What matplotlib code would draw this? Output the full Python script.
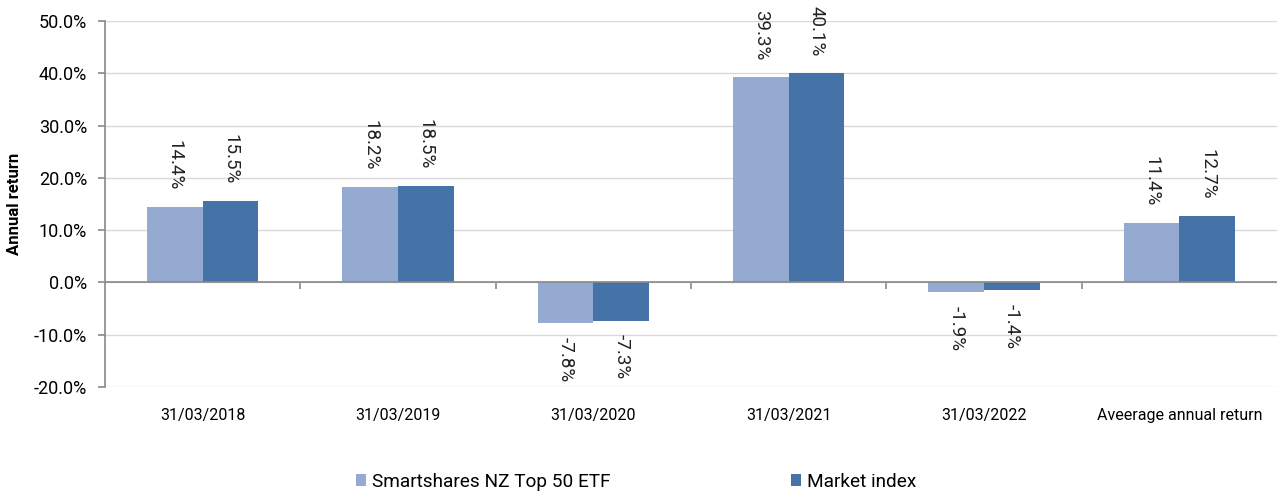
import matplotlib.pyplot as plt
import numpy as np
from matplotlib.ticker import FuncFormatter, MultipleLocator

plt.rcParams['font.family'] = ['Roboto', 'DejaVu Sans']

categories = ['31/03/2018', '31/03/2019', '31/03/2020', '31/03/2021', '31/03/2022', 'Aveerage annual return']
etf = [14.4, 18.2, -7.8, 39.3, -1.9, 11.4]
market = [15.5, 18.5, -7.3, 40.1, -1.4, 12.7]
series_names = ['Smartshares NZ Top 50 ETF', 'Market index']

c_light = '#94AAD0'
c_dark = '#4573A7'

fig = plt.figure(figsize=(12.77, 4.94), dpi=100)
ax = fig.add_axes([0.0822, 0.2166, 0.9178, 0.7409])

x = np.arange(len(categories))
w = 0.285
b1 = ax.bar(x - w / 2, etf, width=w, color=c_light, label=series_names[0], zorder=3)
b2 = ax.bar(x + w / 2, market, width=w, color=c_dark, label=series_names[1], zorder=3)

# value labels, rotated
for bars in (b1, b2):
    for rect in bars:
        v = rect.get_height()
        xc = rect.get_x() + rect.get_width() / 2
        if v >= 0:
            ax.annotate(f'{v:.1f}%', (xc, v), xytext=(0, 12), textcoords='offset points',
                        rotation=270, ha='center', va='bottom', fontsize=13.5, color='#222222')
        else:
            ax.annotate(f'{v:.1f}%', (xc, v), xytext=(0, -10), textcoords='offset points',
                        rotation=270, ha='center', va='top', fontsize=13.5, color='#222222')

ax.set_xlim(-0.5, len(categories) - 0.5)
ax.set_ylim(-20, 50)
ax.yaxis.set_major_locator(MultipleLocator(10))
ax.yaxis.set_major_formatter(FuncFormatter(lambda v, p: f'{v:.1f}%'))
ax.grid(axis='y', color='#D9D9D9', linewidth=1, zorder=0)
ax.axhline(0, color='#888888', linewidth=1.2, zorder=4)

ax.set_xticks(x)
ax.set_xticklabels(categories, fontsize=11.5)
ax.tick_params(axis='x', length=0, pad=15)
ax.tick_params(axis='y', labelsize=13, length=5, color='#888888', width=1.2, pad=8)

for s in ['top', 'right', 'bottom']:
    ax.spines[s].set_visible(False)
ax.spines['left'].set_color('#888888')
ax.spines['left'].set_linewidth(1.2)

# category boundary ticks on the zero line
sec = ax.secondary_xaxis(20 / 70)
sec.set_xticks(np.arange(0.5, len(categories) - 0.5, 1))
sec.set_xticklabels([])
sec.tick_params(length=5, color='#888888', width=1.2, direction='out')
sec.spines['bottom'].set_visible(False)
sec.spines['top'].set_visible(False)

ax.set_ylabel('Annual return', fontsize=12, fontweight='bold')
ax.yaxis.set_label_coords(-0.071, 0.5)

fig.legend(loc='center', bbox_to_anchor=(0.498, 0.025), ncol=2, frameon=False,
           fontsize=13.7, handlelength=0.55, handleheight=0.55, handletextpad=0.3,
           columnspacing=9.5)

fig.savefig('out.png', dpi=100)
